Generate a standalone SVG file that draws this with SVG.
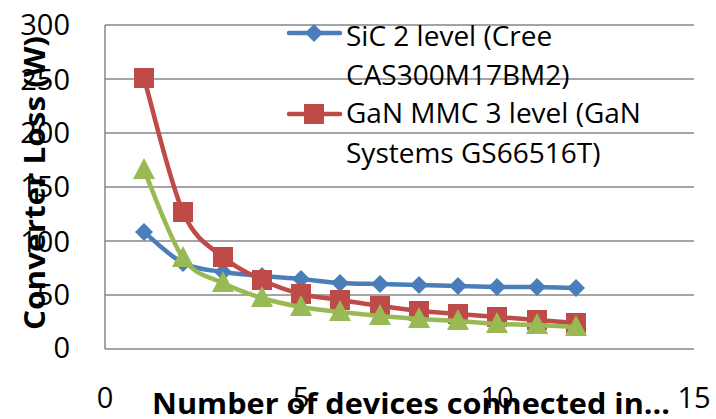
<svg xmlns="http://www.w3.org/2000/svg" width="716" height="419" viewBox="0 0 716 419">
<style>
.grid{stroke:#868686;stroke-width:1.5;fill:none}
.tick{font-family:"Open Sans","Liberation Sans",sans-serif;font-size:29px;fill:#000}
.title{font-family:"Open Sans","Liberation Sans",sans-serif;font-size:29px;font-weight:bold;fill:#000}
.leg{font-family:"Open Sans","Liberation Sans",sans-serif;font-size:28px;fill:#000}
.sic{stroke:#4A7EBB;stroke-width:4.5;fill:none;stroke-linejoin:round;stroke-linecap:round}
.gan{stroke:#BE4B48;stroke-width:4.5;fill:none;stroke-linejoin:round;stroke-linecap:round}
.grn{stroke:#98B954;stroke-width:4.5;fill:none;stroke-linejoin:round;stroke-linecap:round}
</style>
<defs>
<path id="dia" d="M0,-9 L9,0 L0,9 L-9,0Z" fill="#4A7EBB"/>
<rect id="sq" x="-10" y="-10" width="20" height="20" fill="#BE4B48"/>
<path id="tri" d="M0,-12 L11,9 L-11,9Z" fill="#98B954"/>
</defs>
<g id="grid">
<line class="grid" x1="105" y1="25" x2="694" y2="25"/>
<line class="grid" x1="105" y1="79" x2="694" y2="79"/>
<line class="grid" x1="105" y1="133" x2="694" y2="133"/>
<line class="grid" x1="105" y1="187" x2="694" y2="187"/>
<line class="grid" x1="105" y1="241" x2="694" y2="241"/>
<line class="grid" x1="105" y1="295" x2="694" y2="295"/>
<line class="grid" x1="105" y1="349" x2="694" y2="349"/>
<line class="grid" x1="105" y1="25" x2="105" y2="349"/>
</g>
<g id="yticks" class="tick" text-anchor="end">
<text x="70" y="35">300</text>
<text x="70" y="90">250</text>
<text x="70" y="143">200</text>
<text x="70" y="197">150</text>
<text x="70" y="252">100</text>
<text x="70" y="305">50</text>
<text x="70" y="358">0</text>
</g>
<g id="xticks" class="tick" text-anchor="middle">
<text x="105" y="408">0</text>
<text x="301" y="408">5</text>
<text x="497" y="408">10</text>
<text x="694" y="408">15</text>
</g>
<g id="connectors">
<g id="series-sic">
<path class="sic" d="M144,232 C150.5,237.2 169.8,256.3 183,263 C196.2,269.7 209.8,269.8 223,272 C236.2,274.2 249,274.8 262,276 C275,277.2 288,277.8 301,279 C314,280.2 326.8,282.2 340,283 C353.2,283.8 366.8,283.7 380,284 L419,285 L458,286 L497,287 L537,287 L576,288"/>
<use href="#dia" x="144" y="232"/><use href="#dia" x="183" y="263"/><use href="#dia" x="223" y="272"/><use href="#dia" x="262" y="276"/><use href="#dia" x="301" y="279"/><use href="#dia" x="340" y="283"/><use href="#dia" x="380" y="284"/><use href="#dia" x="419" y="285"/><use href="#dia" x="458" y="286"/><use href="#dia" x="497" y="287"/><use href="#dia" x="537" y="287"/><use href="#dia" x="576" y="288"/>
</g>
<g id="series-gan">
<path class="gan" d="M144,78 C150.5,100.3 169.8,182.2 183,212 C196.2,241.8 209.8,245.7 223,257 C236.2,268.3 249,273.8 262,280 C275,286.2 288,290.7 301,294 C314,297.3 326.8,298 340,300 L380,306 L419,311 L458,314 L497,317 L537,320 L576,323"/>
<use href="#sq" x="144" y="78"/><use href="#sq" x="183" y="212"/><use href="#sq" x="223" y="257"/><use href="#sq" x="262" y="280"/><use href="#sq" x="301" y="294"/><use href="#sq" x="340" y="300"/><use href="#sq" x="380" y="306"/><use href="#sq" x="419" y="311"/><use href="#sq" x="458" y="314"/><use href="#sq" x="497" y="317"/><use href="#sq" x="537" y="320"/><use href="#sq" x="576" y="323"/>
</g>
<g id="series-green">
<path class="grn" d="M144,170 C150.5,184.7 169.8,239.2 183,258 C196.2,276.8 209.8,276.3 223,283 C236.2,289.7 249,294 262,298 C275,302 288,304.7 301,307 C314,309.3 326.8,310.5 340,312 L380,316 L419,319 L458,321 L497,324 L537,325 L576,327"/>
<use href="#tri" x="144" y="170"/><use href="#tri" x="183" y="258"/><use href="#tri" x="223" y="283"/><use href="#tri" x="262" y="298"/><use href="#tri" x="301" y="307"/><use href="#tri" x="340" y="312"/><use href="#tri" x="380" y="316"/><use href="#tri" x="419" y="319"/><use href="#tri" x="458" y="321"/><use href="#tri" x="497" y="324"/><use href="#tri" x="537" y="325"/><use href="#tri" x="576" y="327"/>
</g>
</g>
<g id="legend">
<line class="sic" x1="289" y1="33" x2="340" y2="33"/>
<use href="#dia" x="314" y="33"/>
<line class="gan" x1="289" y1="114" x2="340" y2="114"/>
<use href="#sq" x="314" y="114"/>
<text class="leg" x="346" y="46">SiC 2 level (Cree</text>
<text class="leg" x="346" y="85">CAS300M17BM2)</text>
<text class="leg" x="346" y="123">GaN MMC 3 level (GaN</text>
<text class="leg" x="346" y="163">Systems GS66516T)</text>
</g>
<g id="axis-titles">
<text class="title" x="152" y="414" textLength="518" lengthAdjust="spacingAndGlyphs">Number of devices connected in…</text>
<text class="title" transform="translate(45,330) rotate(-90)" textLength="294" lengthAdjust="spacingAndGlyphs">Converter Loss (W)</text>
</g>
</svg>
